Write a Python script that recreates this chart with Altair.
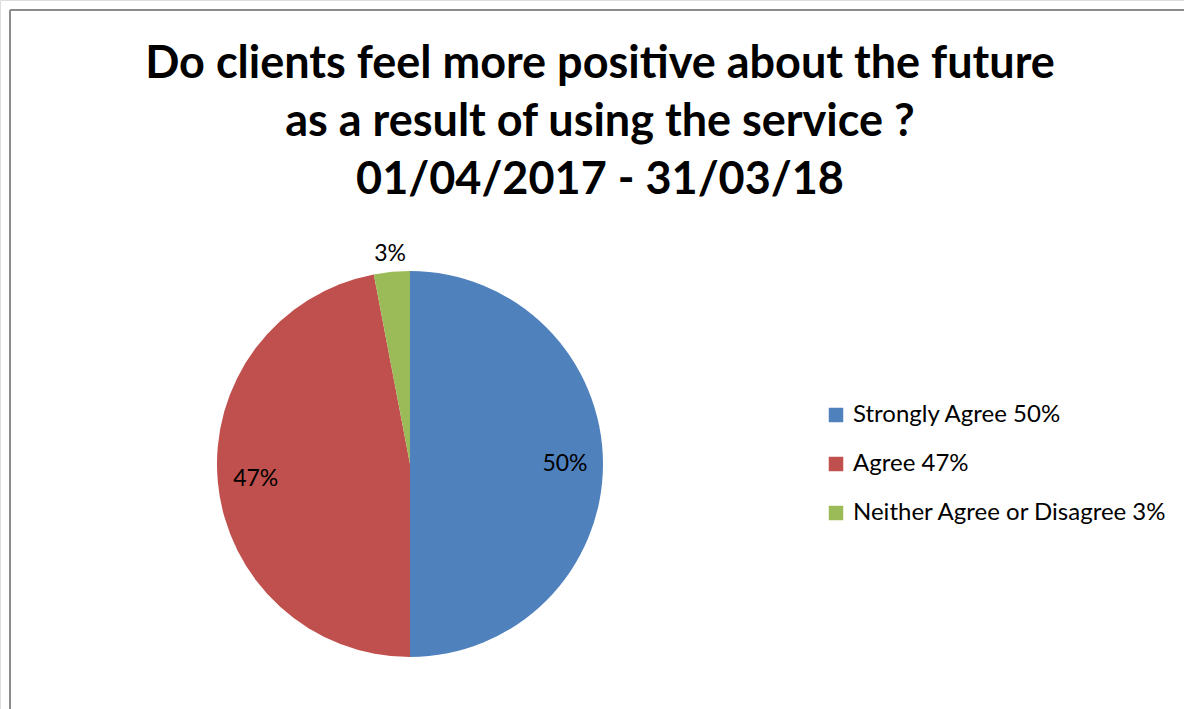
import altair as alt
import pandas as pd

categories = ["Strongly Agree", "Agree", "Neither Agree or Disagree"]
values = [50, 47, 3]
colors = ["#4F81BD", "#C0504D", "#9BBB59"]
title_lines = [
    "Do clients feel more positive about the future",
    "as a result of using the service ?",
    "01/04/2017 - 31/03/18",
]

df = pd.DataFrame({
    "category": categories,
    "value": values,
    "order": list(range(len(categories))),
})
df["pct"] = df["value"].astype(str) + "%"
df["label"] = df["category"] + " " + df["pct"]
legend_labels = list(df["label"])

FONT = "Lato"
CX, CY, R = 410, 464, 193

base = alt.Chart(df)

arc = base.mark_arc(outerRadius=R).encode(
    theta=alt.Theta("value:Q", stack=True),
    color=alt.Color(
        "label:N",
        sort=legend_labels,
        scale=alt.Scale(domain=legend_labels, range=colors),
        legend=alt.Legend(
            title=None,
            orient="none",
            legendX=824,
            legendY=403,
            symbolType="square",
            symbolSize=210,
            symbolStrokeWidth=0,
            labelFontSize=24,
            labelFont=FONT,
            labelColor="black",
            labelOffset=5,
            rowPadding=25,
            labelLimit=400,
        ),
    ),
    order=alt.Order("order:Q"),
    x=alt.value(CX),
    y=alt.value(CY),
)

labels = base.transform_window(
    cum="sum(value)", sort=[alt.SortField("order")], frame=[None, 0]
).transform_joinaggregate(total="sum(value)").transform_calculate(
    mid="(datum.cum - datum.value/2) / datum.total * 2 * PI",
    rad="datum.value >= 10 ? 155 : 211",
    lx=f"{CX} + datum.rad * sin(datum.mid)",
    ly=f"{CY} - datum.rad * cos(datum.mid)",
).mark_text(fontSize=23, font=FONT, color="black").encode(
    x=alt.X("lx:Q", scale=None, axis=None),
    y=alt.Y("ly:Q", scale=None, axis=None),
    text="pct:N",
)

one = alt.Chart(alt.Data(values=[{}]))
title = one.mark_text(
    text=title_lines,
    fontSize=45,
    fontWeight="bold",
    font=FONT,
    lineHeight=58,
    baseline="alphabetic",
    align="center",
    color="black",
).encode(x=alt.value(600), y=alt.value(78))

border_v = one.mark_rule(color="#8c8c8c", strokeWidth=2).encode(
    x=alt.value(10), y=alt.value(10), y2=alt.value(709)
)
border_h = one.mark_rule(color="#8c8c8c", strokeWidth=2).encode(
    y=alt.value(10), x=alt.value(10), x2=alt.value(1184)
)

chart = alt.layer(border_v, border_h, title, arc, labels).properties(
    width=1184, height=709, padding=0, autosize=alt.AutoSizeParams(type="none")
).configure_view(stroke=None).configure(background="white")

chart.save("out.html", embed_options={"renderer": "svg", "actions": False})
